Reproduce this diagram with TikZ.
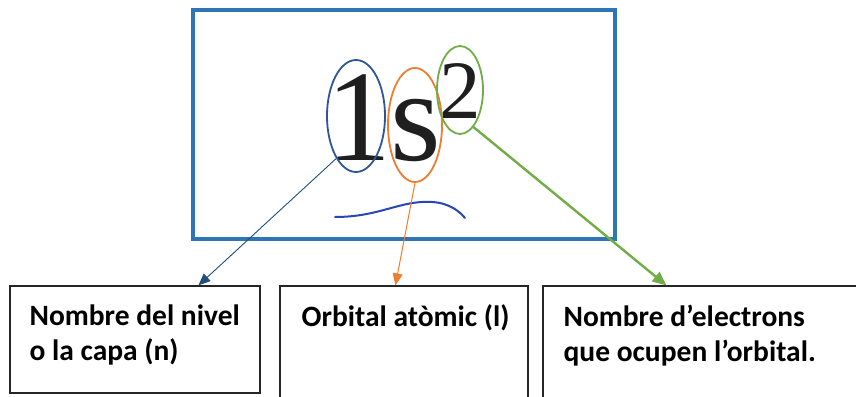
\documentclass[tikz,border=0pt]{standalone}
\usepackage{fontspec}
\setmainfont{Liberation Serif}
\newfontfamily\lblfont{Carlito}
\usepackage{xcolor}
\definecolor{frameblue}{RGB}{46,117,182}
\definecolor{nblue}{RGB}{47,85,151}
\definecolor{nbluearr}{RGB}{31,78,121}
\definecolor{lorange}{RGB}{237,125,49}
\definecolor{egreen}{RGB}{112,173,71}
\definecolor{inkblue}{RGB}{40,70,180}
\usetikzlibrary{shapes.geometric,arrows.meta,positioning,calc}

\begin{document}
\begin{tikzpicture}[x=1pt,y=-1pt,
  frm/.style={draw=frameblue,line width=3.5pt},
  ring/.style={ellipse,draw,line width=1.8pt,inner sep=0pt},
  sym/.style={anchor=base,inner sep=0pt,text=black!88},
  lblbox/.style={draw=black!85,line width=1.2pt,rectangle,inner sep=0pt},
  lbl/.style={anchor=north west,inner sep=0pt,align=left,
    font=\lblfont\bfseries\fontsize{29.5}{35}\selectfont},
  arr/.style={-{Triangle[length=12pt,width=10pt]}}]
\useasboundingbox (0,0) rectangle (856,396);
\clip (0,0) rectangle (856,396);
\draw[frm] (193,10) rectangle (615,239);
% the symbol 1s^2
\node[sym,font=\fontsize{130}{130}\selectfont] (one) at (358.5,160) {1};
\node[sym,font=\fontsize{130}{130}\selectfont] (ess) at (416,160) {s};
\node[sym,font=\fontsize{83}{83}\selectfont]   (two) at (460,118) {2};
\node[ring,draw=nblue,minimum width=58pt,minimum height=112pt]   (ringn) at (356,116) {};
\node[ring,draw=lorange,minimum width=54pt,minimum height=114pt] (ringl) at (415,125) {};
\node[ring,draw=egreen,minimum width=46pt,minimum height=88pt]   (ringe) at (460,90) {};
\draw[inkblue,line width=2pt,line cap=round]
  (335,217) .. controls (380,217) and (400,200) .. (432,202)
  .. controls (450,203) and (460,212) .. (465,218);
% boxes
\node[lblbox,minimum width=250pt,minimum height=107pt] (boxn) at (135,339.5) {};
\node[lblbox,minimum width=248pt,minimum height=120pt] (boxl) at (404,346) {};
\node[lblbox,minimum width=330pt,minimum height=120pt] (boxe) at (708,346) {};
\node[lbl] (txtn) at ($(boxn.north west)+(20,19)$) {Nombre del nivel\\o la capa (n)};
\node[lbl] (txtl) at ($(boxl.north west)+(22,19)$) {Orbital atòmic (l)};
\node[lbl] (txte) at ($(boxe.north west)+(21,19)$) {Nombre d’electrons\\que ocupen l’orbital.};
% arrows
\draw[arr,nbluearr,line width=0.9pt] (ringn.-115) -- ([xshift=189pt]boxn.north west);
\draw[arr,lorange,line width=1pt]    (ringl.south) -- ([xshift=116pt]boxl.north west);
\draw[arr,egreen,line width=2.4pt,-{Triangle[length=14pt,width=12pt]}]
  (ringe.-70) -- ([xshift=124pt]boxe.north west);
\end{tikzpicture}
\end{document}
